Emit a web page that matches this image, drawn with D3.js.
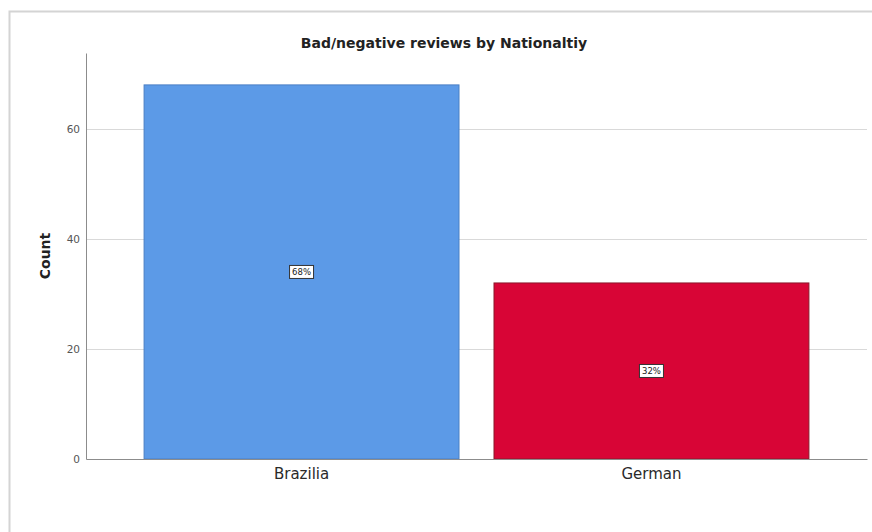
<!DOCTYPE html>
<html><head><meta charset="utf-8">
<script src="https://cdn.jsdelivr.net/npm/d3@7"></script>
<style>
body{margin:0;background:#fff;}
svg{display:block;font-family:"DejaVu Sans",sans-serif;}
</style></head>
<body><svg id="c" width="872" height="532"></svg>
<script>
const categories = ["Brazilia", "German"];
const counts = [68, 32];
const percentLabels = ["68%", "32%"];
const yTicks = [0, 20, 40, 60];
const colors = ["#5c9ae7", "#d80536"];
const strokes = ["#4a7fc4", "#8a1a2c"];

(function(){
const svg = d3.select("#c");
// frame
svg.append("rect").attr("x", 9.5).attr("y", 11.5).attr("width", 900).attr("height", 900)
  .attr("fill", "#fff").attr("stroke", "#d4d4d4").attr("stroke-width", 2);

const pl = 86, pr = 867, pt = 53, pb = 459;
const y = d3.scaleLinear().domain([0, 73.8]).range([pb, pt]);
const x = d3.scaleBand().domain(categories).range([pl, pr]).paddingInner(0.1).paddingOuter(0.166);

// gridlines
svg.append("g").selectAll("line").data(yTicks.filter(d => d > 0)).join("line")
  .attr("x1", pl).attr("x2", pr)
  .attr("y1", d => Math.round(y(d)) + 0.5).attr("y2", d => Math.round(y(d)) + 0.5)
  .attr("stroke", "#d9d9d9").attr("stroke-width", 1);

// bars
svg.append("g").selectAll("rect").data(categories).join("rect")
  .attr("x", d => x(d)).attr("y", (d, i) => y(counts[i]))
  .attr("width", x.bandwidth()).attr("height", (d, i) => y(0) - y(counts[i]))
  .attr("fill", (d, i) => colors[i]).attr("stroke", (d, i) => strokes[i]).attr("stroke-width", 1);

// axes
const yAxis = d3.axisLeft(y).tickValues(yTicks).tickSizeInner(4).tickSizeOuter(0).tickPadding(2);
const gy = svg.append("g").attr("transform", `translate(${pl},0)`).call(yAxis);
gy.select(".domain").attr("stroke", "#8c8c8c");
gy.selectAll(".tick line").attr("stroke", "none");
gy.selectAll(".tick text").attr("font-size", 10.5).attr("fill", "#555")
  .attr("font-family", "DejaVu Sans");

const xAxis = d3.axisBottom(x).tickSize(0).tickPadding(9);
const gx = svg.append("g").attr("transform", `translate(0,${pb})`).call(xAxis);
gx.select(".domain").attr("stroke", "#8c8c8c");
gx.selectAll(".tick text").attr("font-size", 15).attr("fill", "#2a2a2a").attr("font-family", "DejaVu Sans");
gy.raise();

// percentage labels
const lab = svg.append("g").selectAll("g").data(categories).join("g")
  .attr("transform", (d, i) => `translate(${x(d) + x.bandwidth() / 2},${y(counts[i] / 2)})`);
lab.append("rect").attr("x", -12).attr("y", -6.5).attr("width", 24).attr("height", 13)
  .attr("fill", "#fff").attr("stroke", "#333").attr("stroke-width", 1);
lab.append("text").attr("text-anchor", "middle").attr("dy", "0.35em")
  .attr("font-size", 8.5).attr("fill", "#222").text((d, i) => percentLabels[i]);

// title
svg.append("text").attr("x", 444).attr("y", 48).attr("text-anchor", "middle")
  .attr("font-size", 14).attr("font-weight", "bold").attr("fill", "#222")
  .text("Bad/negative reviews by Nationaltiy");

// y title
svg.append("text").attr("transform", "translate(50,256) rotate(-90)").attr("text-anchor", "middle")
  .attr("font-size", 14).attr("font-weight", "bold").attr("fill", "#222").text("Count");
})();
</script></body></html>
